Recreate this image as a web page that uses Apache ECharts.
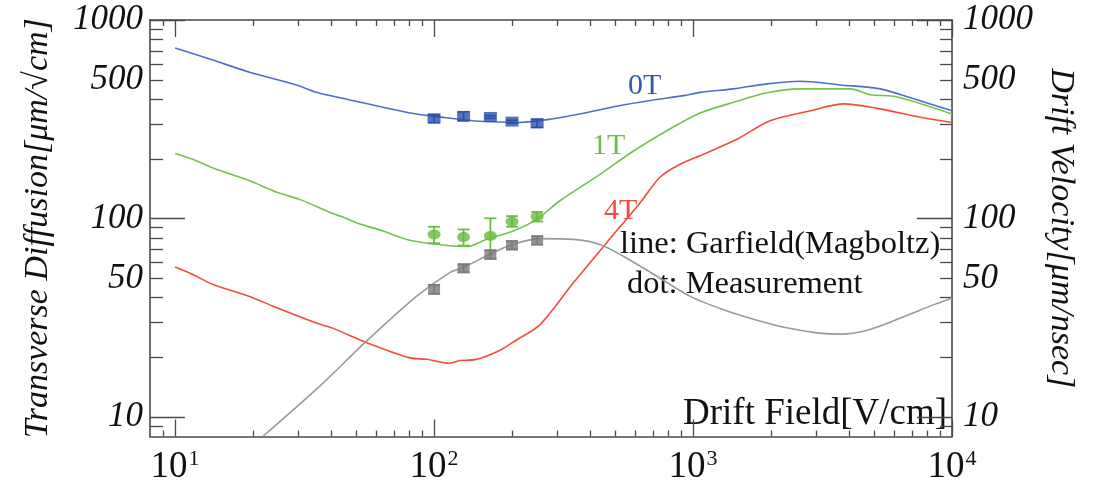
<!DOCTYPE html>
<html>
<head>
<meta charset="utf-8">
<script src="https://cdn.jsdelivr.net/npm/echarts@6/dist/echarts.min.js"></script>
<style>
html,body{margin:0;padding:0;background:#fff;}
#c{width:1095px;height:486px;}
</style>
</head>
<body>
<div id="c"></div>
<script>
// ---- data ----
const xTickMajor = [10, 100, 1000, 10000];
const xTickMinor = [9, 20, 30, 40, 50, 60, 70, 80, 90, 200, 300, 400, 500, 600, 700, 800, 900, 2000, 3000, 4000, 5000, 6000, 7000, 8000, 9000];
const yTickMajor = [10, 100, 1000];
const yTickMinor = [9, 20, 30, 40, 50, 60, 70, 80, 90, 200, 300, 400, 500, 600, 700, 800, 900];
const yLabelValues = [10, 50, 100, 500, 1000];

// Garfield (Magboltz) transverse diffusion, 0T
const field0T = [10, 13.8, 19.4, 29.4, 35.1, 47.2, 63.5, 85.5, 111, 150, 214, 288, 377, 507, 682, 918, 1065, 1432, 1926, 2594, 3704, 5287, 7117, 10000];
const diff0T  = [722, 632, 546, 471, 433, 396, 364, 336, 322, 309, 305, 318, 339, 368, 393, 416, 432, 450, 477, 492, 471, 450, 401, 349];
// 1T
const field1T = [10, 11.7, 14.0, 19.4, 24.6, 30.2, 40.6, 44.4, 50.1, 63.5, 80.6, 115, 135, 159, 202, 249, 306, 437, 589, 792, 1065, 1432, 1926, 2594, 4050, 4839, 5957, 10000];
const diff1T  = [213, 199, 180, 155, 136, 125, 106, 102, 95.4, 86.6, 77.9, 73.0, 72.5, 78.6, 86.6, 99.1, 123, 167, 219, 277, 340, 385, 430, 450, 450, 420, 413, 336];
// 4T
const field4T = [10, 11.7, 14.0, 19.4, 23.9, 35.1, 40.6, 54.7, 80.6, 93.5, 115, 126, 144, 179, 208, 256, 345, 464, 624, 747, 891, 1097, 1476, 1986, 2838, 3818, 5140, 7551, 10000];
const diff4T  = [57.0, 52.3, 46.6, 40.6, 36.2, 29.8, 28.1, 23.8, 19.9, 19.6, 18.7, 19.3, 19.5, 21.7, 24.5, 29.2, 47.5, 75.7, 120, 162, 188, 211, 251, 311, 349, 378, 359, 324, 305];
// drift velocity (right axis)
const fieldVel = [21.8, 36.1, 54.7, 85.5, 115, 129, 164, 196, 256, 345, 437, 538, 725, 975, 1312, 1766, 2300, 3000, 3700, 4697, 6324, 8510, 10000];
const driftVel = [8.0, 14.3, 24.1, 40.6, 53.5, 56.6, 66.1, 73.3, 79.3, 78.6, 74.1, 64.7, 51.3, 40.6, 34.8, 30.8, 28.2, 26.6, 26.2, 27.4, 31.6, 36.9, 39.9];

// measurements
const measField = [100, 130, 165, 200, 250];
const meas0T = [320, 327, 325, 308, 302];
const meas0TLo = [304, 311, 320, 303, 288];
const meas0THi = [333, 345, 330, 313, 316];
const meas1T = [83.3, 80.7, 81.8, 96.6, 102.4];
const meas1TLo = [75.2, 73.2, 62.7, 91.0, 96.7];
const meas1THi = [91.0, 88.2, 100.4, 103, 108];
const measVel = [44.0, 56.2, 66.1, 73.3, 77.7];
const measVelLo = [41.8, 53.7, 62.8, 70.0, 74.0];
const measVelHi = [46.4, 58.9, 69.2, 77.1, 81.6];

// ---- helpers ----
const zip = (a, b) => a.map((v, i) => [v, b[i]]);
const zip3 = (a, b, c) => a.map((v, i) => [v, b[i], c[i]]);
function errBar(color, w) {
  return function (params, api) {
    const x = api.value(0), lo = api.value(1), hi = api.value(2);
    const a = api.coord([x, lo]), b = api.coord([x, hi]);
    const st = { stroke: color, lineWidth: 1.7 };
    return { type: 'group', children: [
      { type: 'line', shape: { x1: a[0], y1: a[1], x2: b[0], y2: b[1] }, style: st },
      { type: 'line', shape: { x1: a[0] - w, y1: a[1], x2: a[0] + w, y2: a[1] }, style: st },
      { type: 'line', shape: { x1: b[0] - w, y1: b[1], x2: b[0] + w, y2: b[1] }, style: st }
    ]};
  };
}

const FRAME = '#4a4a4a';
const SERIF = '"Liberation Serif", "DejaVu Serif", serif';

function xAx(pos, values, len, showLine, labels) {
  return {
    type: 'log', logBase: 10, min: 8, max: 10000, position: pos,
    axisLine: { show: showLine, onZero: false, lineStyle: { color: FRAME, width: 1.6 } },
    axisTick: { show: true, inside: true, length: len, customValues: values, lineStyle: { color: FRAME, width: 1.3 } },
    splitLine: { show: false }, minorTick: { show: false },
    axisLabel: labels ? {
      show: true, customValues: xTickMajor, margin: 12,
      formatter: v => '{b|10}{s|' + Math.round(Math.log10(v)) + '}',
      rich: {
        b: { fontFamily: SERIF, fontSize: 37, color: '#111', lineHeight: 38 },
        s: { fontFamily: SERIF, fontSize: 22, color: '#111', verticalAlign: 'top', lineHeight: 38, padding: [0, 0, 12, 1] }
      }
    } : { show: false }
  };
}
function yAx(pos, values, len, showLine, labels, name) {
  const ax = {
    type: 'log', logBase: 10, min: 8, max: 1000, position: pos,
    axisLine: { show: showLine, onZero: false, lineStyle: { color: FRAME, width: 1.6 } },
    axisTick: { show: true, inside: true, length: len, customValues: values, lineStyle: { color: FRAME, width: 1.3 } },
    splitLine: { show: false }, minorTick: { show: false },
    axisLabel: labels ? {
      show: true, customValues: yLabelValues, margin: pos === 'left' ? 7 : 11,
      fontFamily: SERIF, fontStyle: 'italic', fontSize: 35, color: '#111',
      formatter: v => String(Math.round(v))
    } : { show: false }
  };
  if (name) {
    Object.assign(ax, {
      name: name, nameLocation: 'middle',
      nameGap: pos === 'left' ? 95 : 84,
      nameRotate: pos === 'left' ? 90 : -90,
      nameTextStyle: { fontFamily: SERIF, fontStyle: 'italic', fontSize: 34, color: '#111' }
    });
  }
  return ax;
}

const chart = echarts.init(document.getElementById('c'), null, { renderer: 'canvas' });
chart.setOption({
  animation: false,
  backgroundColor: '#fff',
  grid: { left: 150, right: 143, top: 20, bottom: 49, containLabel: false },
  xAxis: [
    xAx('bottom', xTickMajor, 17, true, true),
    xAx('bottom', xTickMinor, 6, false, false),
    xAx('top', xTickMajor, 17, true, false),
    xAx('top', xTickMinor, 6, false, false)
  ],
  yAxis: [
    yAx('left', yTickMajor, 35, true, true, 'Transverse Diffusion[μm/√cm]'),
    yAx('left', yTickMinor, 13, false, false),
    yAx('right', yTickMajor, 35, true, true, 'Drift Velocity[μm/nsec]'),
    yAx('right', yTickMinor, 12, false, false)
  ],
  series: [
    { type: 'line', data: zip(field0T, diff0T), showSymbol: false, smooth: 0.3, lineStyle: { color: '#4d6fcc', width: 1.6 }, z: 2 },
    { type: 'line', data: zip(field1T, diff1T), showSymbol: false, smooth: 0.3, lineStyle: { color: '#74c24e', width: 1.6 }, z: 2 },
    { type: 'line', data: zip(field4T, diff4T), showSymbol: false, smooth: 0.3, lineStyle: { color: '#f04e3a', width: 1.6 }, z: 2 },
    { type: 'line', yAxisIndex: 2, data: zip(fieldVel, driftVel), showSymbol: false, smooth: 0.3, lineStyle: { color: '#9a9a9a', width: 1.6 }, z: 2 },

    { type: 'custom', renderItem: errBar('#2a52aa', 6), data: zip3(measField, meas0TLo, meas0THi), z: 3 },
    { type: 'custom', renderItem: errBar('#66bb3c', 6), data: zip3(measField, meas1TLo, meas1THi), z: 3 },
    { type: 'custom', yAxisIndex: 2, renderItem: errBar('#7a7a7a', 6), data: zip3(measField, measVelLo, measVelHi), z: 3 },

    { type: 'scatter', data: zip(measField, meas0T), symbol: 'rect', symbolSize: [13, 10], itemStyle: { color: '#2a52aa' }, z: 4 },
    { type: 'scatter', data: zip(measField, meas1T), symbol: 'circle', symbolSize: [13, 10], itemStyle: { color: '#66bb3c' }, z: 4 },
    { type: 'scatter', yAxisIndex: 2, data: zip(measField, measVel), symbol: 'rect', symbolSize: [12, 10], itemStyle: { color: '#7a7a7a' }, z: 4 }
  ],
  graphic: [
    { type: 'text', x: 628, y: 86, style: { text: '0T', font: '30px ' + SERIF, fill: '#3457b2', verticalAlign: 'middle' } },
    { type: 'text', x: 592, y: 146, style: { text: '1T', font: '30px ' + SERIF, fill: '#6cbf45', verticalAlign: 'middle' } },
    { type: 'text', x: 604, y: 211, style: { text: '4T', font: '30px ' + SERIF, fill: '#f04e3a', verticalAlign: 'middle' } },
    { type: 'text', x: 620, y: 244, style: { text: 'line: Garfield(Magboltz)', font: '32.5px ' + SERIF, fill: '#111', verticalAlign: 'middle' } },
    { type: 'text', x: 627, y: 284, style: { text: 'dot: Measurement', font: '32.5px ' + SERIF, fill: '#111', verticalAlign: 'middle' } },
    { type: 'text', x: 683, y: 414, style: { text: 'Drift Field[V/cm]', font: '37px ' + SERIF, fill: '#111', verticalAlign: 'middle' } }
  ]
});
</script>
</body>
</html>
